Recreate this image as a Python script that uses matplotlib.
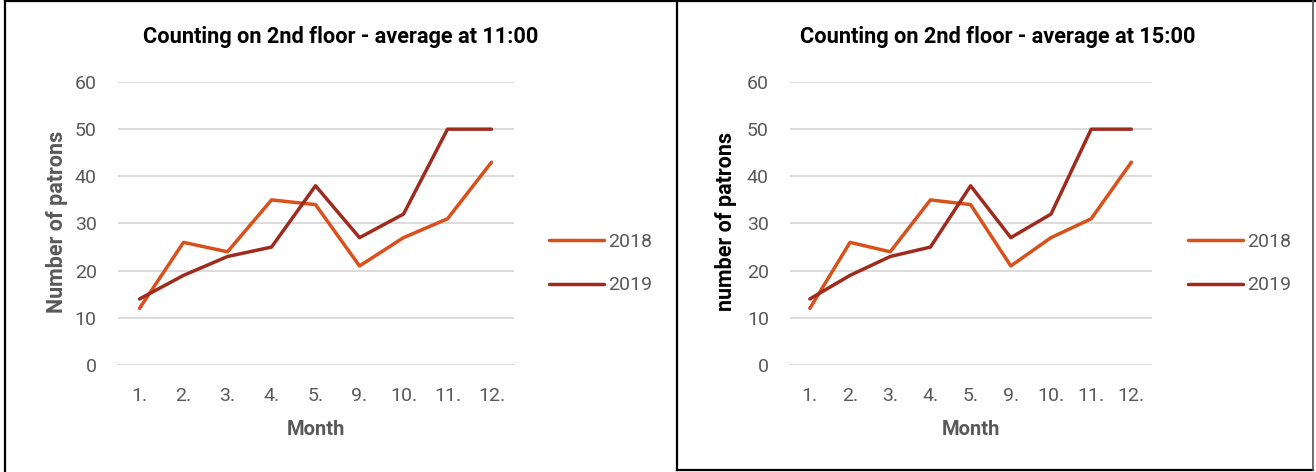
import matplotlib
matplotlib.use("Agg")
import matplotlib.pyplot as plt
from matplotlib.lines import Line2D

months = ["1.", "2.", "3.", "4.", "5.", "9.", "10.", "11.", "12."]
visits_2018 = [12, 26, 24, 35, 34, 21, 27, 31, 43]
visits_2019 = [14, 19, 23, 25, 38, 27, 32, 50, 50]
years = ["2018", "2019"]
titles = ["Counting on 2nd floor - average at 11:00",
          "Counting on 2nd floor - average at 15:00"]
ylabels = ["Number of patrons", "number of patrons"]

C18 = "#D9501A"
C19 = "#9E2B1E"
GREY = "#595959"

plt.rcParams["font.family"] = ["Roboto", "DejaVu Sans"]

fig = plt.figure(figsize=(13.16, 4.72), dpi=100)

# panel geometry (fig fractions): axes, title x, ylabel x, legend x
panels = [
    dict(rect=[0.0893, 0.2267, 0.3009, 0.5996], tx=0.259, lx=0.043, lgx=0.4115, ylc=GREY),
    dict(rect=[0.6001, 0.2267, 0.2749, 0.5996], tx=0.758, lx=0.552, lgx=0.897, ylc="black"),
]

for i, p in enumerate(panels):
    ax = fig.add_axes(p["rect"])
    x = range(len(months))
    ax.plot(x, visits_2018, color=C18, lw=2.5, solid_capstyle="round", label=years[0])
    ax.plot(x, visits_2019, color=C19, lw=2.5, solid_capstyle="round", label=years[1])
    ax.set_xlim(-0.5, len(months) - 0.5)
    ax.set_ylim(0, 60)
    ax.set_yticks(range(0, 61, 10))
    ax.set_xticks(list(x))
    ax.set_xticklabels(months)
    ax.yaxis.grid(True, color="#D9D9D9", lw=1.3)
    ax.set_axisbelow(True)
    for s in ax.spines.values():
        s.set_visible(False)
    ax.tick_params(axis="both", length=0, labelsize=14, labelcolor=GREY)
    ax.tick_params(axis="y", pad=15)
    ax.tick_params(axis="x", pad=16)
    ax.set_xlabel("Month", fontsize=14.5, fontweight="bold", color=GREY, labelpad=11)
    fig.text(p["tx"], 0.921, titles[i], ha="center", va="center",
             fontsize=15.7, fontweight="bold", color="black")
    fig.text(p["lx"], 0.53, ylabels[i], ha="center", va="center", rotation=90,
             fontsize=15.5, fontweight="bold", color=p["ylc"])
    fig.legend(handles=ax.get_lines(), labels=years, loc="center left",
               bbox_to_anchor=(p["lgx"], 0.441), frameon=False, fontsize=14,
               labelcolor=GREY, handlelength=2.8, handletextpad=0.25,
               labelspacing=1.3, borderaxespad=0)

# panel borders
border = dict(color="black", lw=1.6, transform=fig.transFigure)
fig.add_artist(Line2D([0.004, 0.004], [0, 0.998], **border))
fig.add_artist(Line2D([0.004, 0.999], [0.998, 0.998], **border))
fig.add_artist(Line2D([0.5145, 0.5145], [0.004, 0.998], **border))
fig.add_artist(Line2D([0.5145, 0.998], [0.004, 0.004], **border))
fig.add_artist(Line2D([0.998, 0.998], [0.004, 0.998], color="#555555", lw=1.2,
                      transform=fig.transFigure))

fig.savefig("out.png", dpi=100)
